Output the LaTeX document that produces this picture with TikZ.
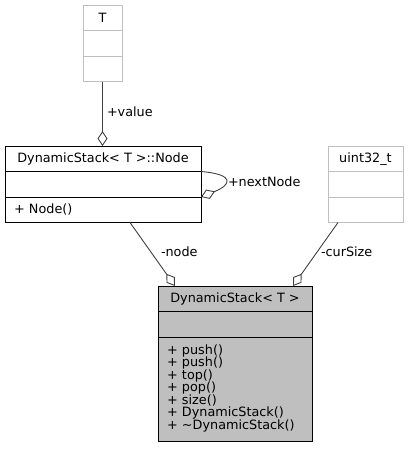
\documentclass[tikz,border=0pt]{standalone}
\usepackage{fontspec}
\setmainfont{DejaVu Sans}
\usetikzlibrary{positioning,arrows.meta}
\begin{document}
\begin{tikzpicture}[x=1pt, y=-1pt, >={Diamond[open, length=15pt, width=10pt]},
  every node/.style={draw, rectangle, line width=1pt, outer sep=0pt, inner sep=0pt, minimum height=25.5pt, font=\fontsize{12.8}{12.5}\selectfont},
  main/.style={fill=black!25},
  ext/.style={draw=black!25},
  ops/.style={align=left, inner xsep=9pt, text width=#1},
  edge/.style={draw=black!75, line width=0.9pt},
  lbl/.style={draw=none, anchor=west}]
  \useasboundingbox (0,0) rectangle (409,456);
  % T
  \node[ext, minimum width=39pt] (tName) at (102.5,17.75) {T};
  \node[ext, minimum width=39pt, below=0pt of tName] (tAttr) {};
  \node[ext, minimum width=39pt, below=0pt of tAttr] (tOps) {};
  % DynamicStack<T>::Node
  \node[minimum width=196pt] (nodeName) at (103,158.75) {DynamicStack< T >::Node};
  \node[minimum width=196pt, below=0pt of nodeName] (nodeAttr) {};
  \node[ops=178pt, below=0pt of nodeAttr] (nodeOps) {+ Node()};
  % uint32_t
  \node[ext, minimum width=75pt] (uintName) at (365.5,158.75) {uint32\_t};
  \node[ext, minimum width=75pt, below=0pt of uintName] (uintAttr) {};
  \node[ext, minimum width=75pt, below=0pt of uintAttr] (uintOps) {};
  % DynamicStack<T>
  \node[main, minimum width=154pt] (stackName) at (235,298.75) {DynamicStack< T >};
  \node[main, minimum width=154pt, below=0pt of stackName] (stackAttr) {};
  \node[main, ops=136pt, minimum height=104pt, text depth=79pt, below=0pt of stackAttr] (stackOps) {+ push()\\+ push()\\+ top()\\+ pop()\\+ size()\\+ DynamicStack()\\+ \textasciitilde DynamicStack()};
  % connectors
  \draw[edge, ->] (tOps.south) -- (tOps.south |- nodeName.north);
  \draw[edge, ->] (nodeAttr.north east) .. controls +(35,3) and +(30,-12) .. (nodeAttr.south east);
  \draw[edge, ->] ([xshift=125pt]nodeOps.south west) -- ([xshift=17pt]stackName.north west);
  \draw[edge, ->] ([xshift=10pt]uintOps.south west) -- ([xshift=135pt]stackName.north west);
  \node[lbl] (valueLbl) at (107,112) {+value};
  \node[lbl] (nextLbl) at (228,182) {+nextNode};
  \node[lbl] (nodeLbl) at (161,252) {-node};
  \node[lbl] (sizeLbl) at (321,252) {-curSize};
\end{tikzpicture}
\end{document}
